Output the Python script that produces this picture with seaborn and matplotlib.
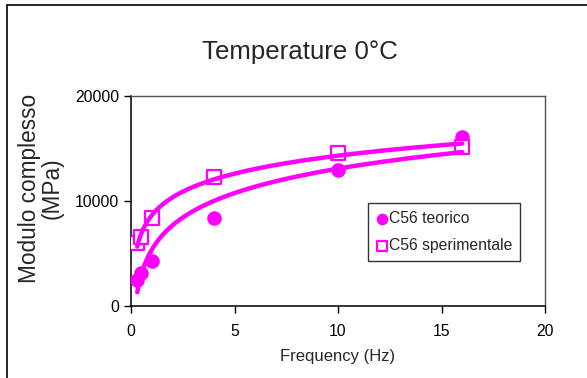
import matplotlib
matplotlib.use("Agg")
import matplotlib.pyplot as plt
import seaborn as sns
import pandas as pd
import numpy as np
from matplotlib.patches import Rectangle

# ==== Data ====
freq = [0.3, 0.5, 1.0, 4.0, 10.0, 16.0]
teorico = [2480, 3170, 4300, 8420, 12950, 16100]
sperimentale = [5970, 6600, 8400, 12300, 14600, 15170]

MAGENTA = "#FF00FF"

sns.set_style("white")
plt.rcParams['font.family'] = ['Liberation Sans', 'DejaVu Sans']

df = pd.DataFrame({"freq": freq, "teorico": teorico, "sperimentale": sperimentale})

# logarithmic trend lines (like the spreadsheet trendline)
xs = np.geomspace(min(freq), max(freq), 200)
trend = {}
for col in ["teorico", "sperimentale"]:
    a, b = np.polyfit(np.log(df["freq"]), df[col], 1)
    trend[col] = a * np.log(xs) + b

fig = plt.figure(figsize=(5.87, 3.78), dpi=100)
ax = fig.add_axes([0.2232, 0.1905, 0.7053, 0.5556])

sns.scatterplot(data=df, x="freq", y="teorico", ax=ax, marker="o", s=110,
                color=MAGENTA, edgecolor=MAGENTA, linewidth=0, label="C56 teorico", zorder=3)
sns.scatterplot(data=df, x="freq", y="sperimentale", ax=ax, marker="s", s=90,
                facecolor="white", edgecolor=MAGENTA, linewidth=1.6,
                label="C56 sperimentale", zorder=3)
for col in ["teorico", "sperimentale"]:
    sns.lineplot(x=xs, y=trend[col], ax=ax, color=MAGENTA, linewidth=3.2,
                 legend=False, zorder=4)

ax.set_xlim(0, 20)
ax.set_ylim(0, 20000)
ax.set_xticks([0, 5, 10, 15, 20])
ax.set_yticks([0, 10000, 20000])
ax.tick_params(axis="both", direction="out", length=5, width=1, labelsize=11.3,
               colors="black", bottom=True, left=True)
ax.tick_params(axis="x", pad=8)
for side in ["left", "bottom"]:
    ax.spines[side].set_color("black")
    ax.spines[side].set_linewidth(1.1)
for side in ["top", "right"]:
    ax.spines[side].set_color("#555555")
    ax.spines[side].set_linewidth(1.0)

ax.set_xlabel("Frequency (Hz)", fontsize=12, labelpad=7)
ax.set_ylabel("Modulo complesso\n(MPa)", fontsize=16.3, linespacing=1.0)
ax.yaxis.set_label_coords(-0.162, 0.56)
fig.text(0.511, 0.862, "Temperature 0°C", ha="center", va="center", fontsize=18.6)

leg = ax.legend(loc="upper left", bbox_to_anchor=(0.572, 0.49), borderaxespad=0,
                frameon=True, fancybox=False, fontsize=11.3, handletextpad=0.05,
                borderpad=0.5, labelspacing=0.8, handlelength=0.8, markerscale=0.8)
leg.get_frame().set_edgecolor("black")
leg.get_frame().set_linewidth(1.0)

# outer border of the chart area
fig.patches.append(Rectangle((7 / 587, -0.1), 2, 1.1 - 5 / 378, transform=fig.transFigure,
                             fill=False, edgecolor="black", linewidth=1.2))

fig.savefig("out.png", dpi=100)
